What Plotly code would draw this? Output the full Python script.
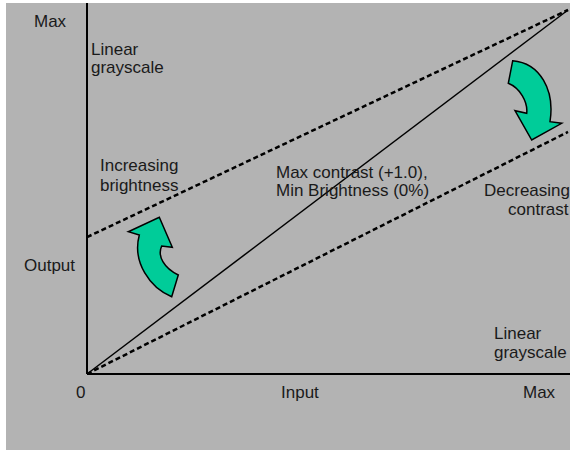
import plotly.graph_objects as go

# ---- data (normalised input/output levels) ----
input_levels = [0.0, 1.0]
linear_output = [0.0, 1.0]            # Max contrast (+1.0), Min Brightness (0%)
bright_output = [0.376, 1.0]          # increasing brightness
lowcontrast_output = [0.0, 0.665]     # decreasing contrast

W, H = 570, 450
X0, XS = 87, 481      # pixel of input 0, pixels per unit
Y0, YS = 374, 364     # pixel of output 0, pixels per unit

def px(x, y):
    return x / W, 1 - y / H

BG = "#b3b3b3"
GREEN = "#00cc99"
FONT = dict(family="Liberation Sans, Arial, sans-serif", size=17, color="#1a1a1a")

fig = go.Figure()

# axes
fig.add_trace(go.Scatter(x=[0, 0], y=[0, (Y0 - 3) / YS], mode="lines",
                         line=dict(color="black", width=2), hoverinfo="skip"))
fig.add_trace(go.Scatter(x=[0, (W - X0) / XS], y=[0, 0], mode="lines",
                         line=dict(color="black", width=2), hoverinfo="skip"))
# curves
fig.add_trace(go.Scatter(x=input_levels, y=linear_output, mode="lines",
                         line=dict(color="black", width=1.5), hoverinfo="skip"))
fig.add_trace(go.Scatter(x=input_levels, y=bright_output, mode="lines",
                         line=dict(color="black", width=2.5, dash="5px,3px"), hoverinfo="skip"))
fig.add_trace(go.Scatter(x=input_levels, y=lowcontrast_output, mode="lines",
                         line=dict(color="black", width=2.5, dash="5px,3px"), hoverinfo="skip"))

def path(cmds):
    out = []
    for c in cmds:
        if c[0] == "Z":
            out.append("Z")
            continue
        op, pts = c[0], c[1:]
        s = []
        for (a, b) in pts:
            u, v = px(a, b)
            s.append(f"{u:.5f},{v:.5f}")
        out.append(op + " " + " ".join(s))
    return " ".join(out)

left_arrow = path([
    ("M", (128.3, 231.7)),
    ("L", (159.3, 217.3)),
    ("L", (172.3, 247.3)),
    ("L", (161.7, 246.0)),
    ("C", (157.0, 256.0), (164.0, 268.0), (178.3, 275.0)),
    ("L", (171.7, 296.7)),
    ("C", (150.0, 288.0), (132.0, 262.0), (139.3, 235.0)),
    ("Z",),
])
right_arrow = path([
    ("M", (512.7, 60.7)),
    ("C", (540.0, 63.0), (555.0, 90.0), (550.0, 121.7)),
    ("L", (561.7, 123.3)),
    ("L", (531.7, 140.0)),
    ("L", (515.0, 110.7)),
    ("L", (526.7, 113.3)),
    ("C", (528.0, 102.0), (520.0, 88.0), (508.3, 83.3)),
    ("Z",),
])

shapes = [
    dict(type="rect", xref="paper", yref="paper", x0=6 / W, x1=1, y0=0, y1=1 - 3 / H,
         fillcolor=BG, line=dict(width=0), layer="below"),
    dict(type="path", xref="paper", yref="paper", path=left_arrow,
         fillcolor=GREEN, line=dict(color="black", width=1.5)),
    dict(type="path", xref="paper", yref="paper", path=right_arrow,
         fillcolor=GREEN, line=dict(color="black", width=1.5)),
]

labels = [
    ("Max", 50, 21.5, "center"),
    ("Linear", 91, 49, "left"),
    ("grayscale", 91, 68, "left"),
    ("Increasing", 139, 166, "center"),
    ("brightness", 139, 185, "center"),
    ("Output", 49, 265, "center"),
    ("0", 80, 392, "center"),
    ("Input", 300, 392, "center"),
    ("Max", 539, 392, "center"),
    ("Linear", 494, 333, "left"),
    ("grayscale", 494, 352, "left"),
    ("Decreasing", 570, 190, "right"),
    ("contrast", 569, 209, "right"),
    ("Max contrast (+1.0),", 276, 172, "left"),
    ("Min Brightness (0%)", 276, 191, "left"),
]
annotations = []
for t, x, y, anc in labels:
    u, v = px(x, y)
    annotations.append(dict(text=t, x=u, y=v, xref="paper", yref="paper",
                            xanchor=anc, yanchor="middle", showarrow=False,
                            borderpad=0, borderwidth=0, font=FONT))

fig.update_layout(
    width=W, height=H,
    margin=dict(l=0, r=0, t=0, b=0),
    paper_bgcolor="white", plot_bgcolor="rgba(0,0,0,0)",
    showlegend=False,
    shapes=shapes, annotations=annotations,
    xaxis=dict(range=[-X0 / XS, (W - X0) / XS], visible=False, fixedrange=True),
    yaxis=dict(range=[-(H - Y0) / YS, Y0 / YS], visible=False, fixedrange=True),
)

fig.write_html("out.html", post_script="document.body.style.margin='0';document.body.style.overflow='hidden';",
               config={"displayModeBar": False})
